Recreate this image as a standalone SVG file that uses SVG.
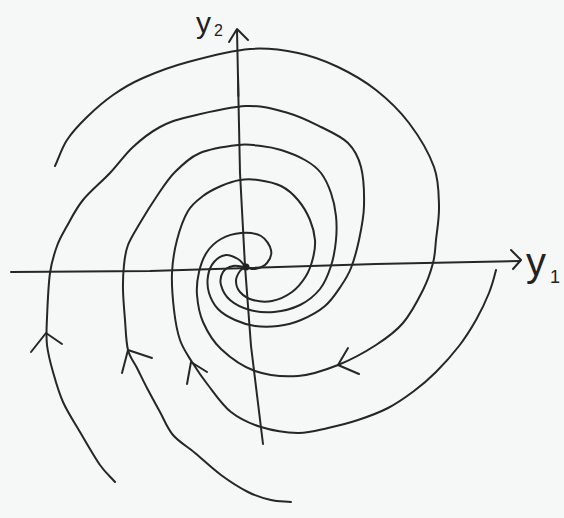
<svg xmlns="http://www.w3.org/2000/svg" width="564" height="518" viewBox="0 0 564 518">
<style>
.ln{fill:none;stroke:#262626;stroke-width:2;stroke-linecap:round;stroke-linejoin:round}
.lbl{font-family:"Liberation Sans","DejaVu Sans",sans-serif;fill:#222}
</style>
<rect x="0" y="0" width="564" height="518" fill="#f6f7f7"/>
<g id="axes">
<g id="axis-y1">
<path class="ln" d="M11,272 L150,271 L376,264 L520,261"/>
<path class="ln" d="M511,250 L521,260 L513,269"/>
<text class="lbl" x="526" y="276" font-size="40">y</text>
<text class="lbl" x="550" y="283" font-size="18">1</text>
</g>
<g id="axis-y2">
<path class="ln" d="M263,444 L251,346 L245,266 L240,173 L237,30"/>
<path class="ln" d="M229,42 L237,29 L248,40"/>
<path class="ln" d="M238,76 L238.4,96" stroke-width="3.5"/>
<text class="lbl" x="196" y="33" font-size="30">y</text>
<text class="lbl" x="214" y="36" font-size="16">2</text>
</g>
</g>
<g id="trajectories">
<g id="t0">
<path class="ln" d="M55,166 C59,157.3 61.7,148.2 67,140 S79.3,124.5 87,117 S103.7,101.5 113,95 S130.5,83.5 143,78 S170.2,66.8 188,62 S231.7,50.5 250,49 S283.3,50 298,53 S325,60.8 338,67 S364.2,80.7 376,90 S399.3,110.2 409,123 S429,153.2 434,167 S438.7,193.8 439,206 S437,230.5 436,240 S435.2,254.7 433,263 S428,280 423,290 S410.8,313.8 403,323 S386.8,338 376,345 S351,359.8 338,365 S311.8,375 298,376 S267.8,375.5 255,371 S229.7,357.2 221,349 S207,331 203,322 S197.7,303.3 197,295 S197.3,279.2 199,272 S203.3,257.5 207,252 S215.3,242.2 221,239 S234.3,233.5 241,233 S256,233.2 261,236 S270,245.5 271,250 S269.7,259.8 267,263 S258.5,268.3 255,269 S249,267.7 246,267"/>
<path class="ln" d="M348,348 L338,365 L359,374"/>
</g>
<g id="t1">
<path class="ln" d="M115,482 C110,476.3 105.8,473.3 100,465 S86.2,442.5 80,432 S67.5,412 63,402 S55.7,381.5 53,372 S48,354 47,345 S46.5,330 47,318 S48.3,285 50,273 S54.2,253.8 57,246 S62.7,233.7 67,226 S75.8,208.8 83,200 S101.7,181.8 110,173 S124.7,154.7 133,147 S150.8,132 160,127 S173.7,120.5 188,117 S229.3,106.7 246,106 S275.5,109.5 288,113 S311,122 321,127 S341.3,136.3 348,143 S358.3,156.5 361,167 S364.3,193.8 364,206 S361.2,229.7 359,240 S354,260.3 351,268 S345.3,279.7 341,286 S331.7,300.3 325,306 S308.8,316.7 301,320 S285.7,325 278,326 S262.2,327 255,326 S241.2,322.8 235,320 S222.3,313.5 218,309 S210.7,298.5 209,293 S207.2,281.2 208,276 S211,265.5 214,262 S222,255.5 226,255 S234.8,257.2 238,259 S242.7,263.7 245,266"/>
<path class="ln" d="M31,352 L46,333 L62,344"/>
</g>
<g id="t2">
<path class="ln" d="M496,270 C494,278 492.7,283.8 489,293 S481,311.2 476,320 S465.7,337.3 459,346 S443.5,364.5 436,372 S422,385 414,391 S397.3,403.2 388,408 S368,416.7 358,420 S338,425.8 328,428 S309.2,433.2 298,433 S272.2,430.5 261,427 S239.8,419 231,412 S214.5,393.3 208,385 S196.7,369.5 192,362 S183,348.7 180,340 S175.3,321.2 174,310 S171.5,284.7 172,273 S174.3,250.3 177,240 S183.7,218.3 188,211 S197.5,200.2 203,196 S214.8,188.7 221,186 S233.8,181 240,180 S251.2,179 258,180 S274.3,182.7 281,186 S293.2,194.3 298,200 S307.2,213.3 310,220 S314.5,233.7 315,240 S314.5,252 313,258 S309.5,270.3 306,276 S297.7,287.8 292,292 S278.5,299.7 272,301 S258.3,301.5 253,300 S242.8,295.2 240,292 S236,284.5 236,281 S238.3,273.3 240,271 S244,268.3 246,267"/>
<path class="ln" d="M187,384 L191,362 L207,372"/>
</g>
<g id="t3">
<path class="ln" d="M291,502 C284.3,501.3 278.2,501.7 271,500 S256.3,496.2 248,492 S229.8,481.5 221,475 S203,459.7 195,453 S178.8,441.8 173,435 S164.3,419.8 160,412 S150.8,395.3 147,388 S140.2,374.3 137,368 S130,358 128,350 S125.8,330 125,320 S123.2,299.2 123,290 S123.2,272.5 124,265 S125.3,252 128,245 S135.2,231.2 140,223 S151.2,204.5 157,196 S167.8,179.2 175,172 S189.5,157.5 200,153 S227.8,146.2 238,145 S253.8,145.2 261,146 S273.7,147.7 281,150 S298.3,156.2 305,160 S316.7,167.5 321,173 S328.5,185.8 331,193 S335.2,208.2 336,216 S336.8,231.7 336,240 S333.7,257.8 331,266 S325.2,282.5 320,289 S307.7,301.2 300,305 S282.3,311.2 274,312 S257.3,312 250,310 S234.8,304.2 230,300 S222.2,289.7 221,285 S221,275.2 223,272 S229.2,266.8 233,266 S241.7,266.7 246,267"/>
<path class="ln" d="M122,373 L128,350 L152,358"/>
</g>
<circle id="origin" cx="246" cy="267" r="3.5" fill="#222"/>
</g>
</svg>
